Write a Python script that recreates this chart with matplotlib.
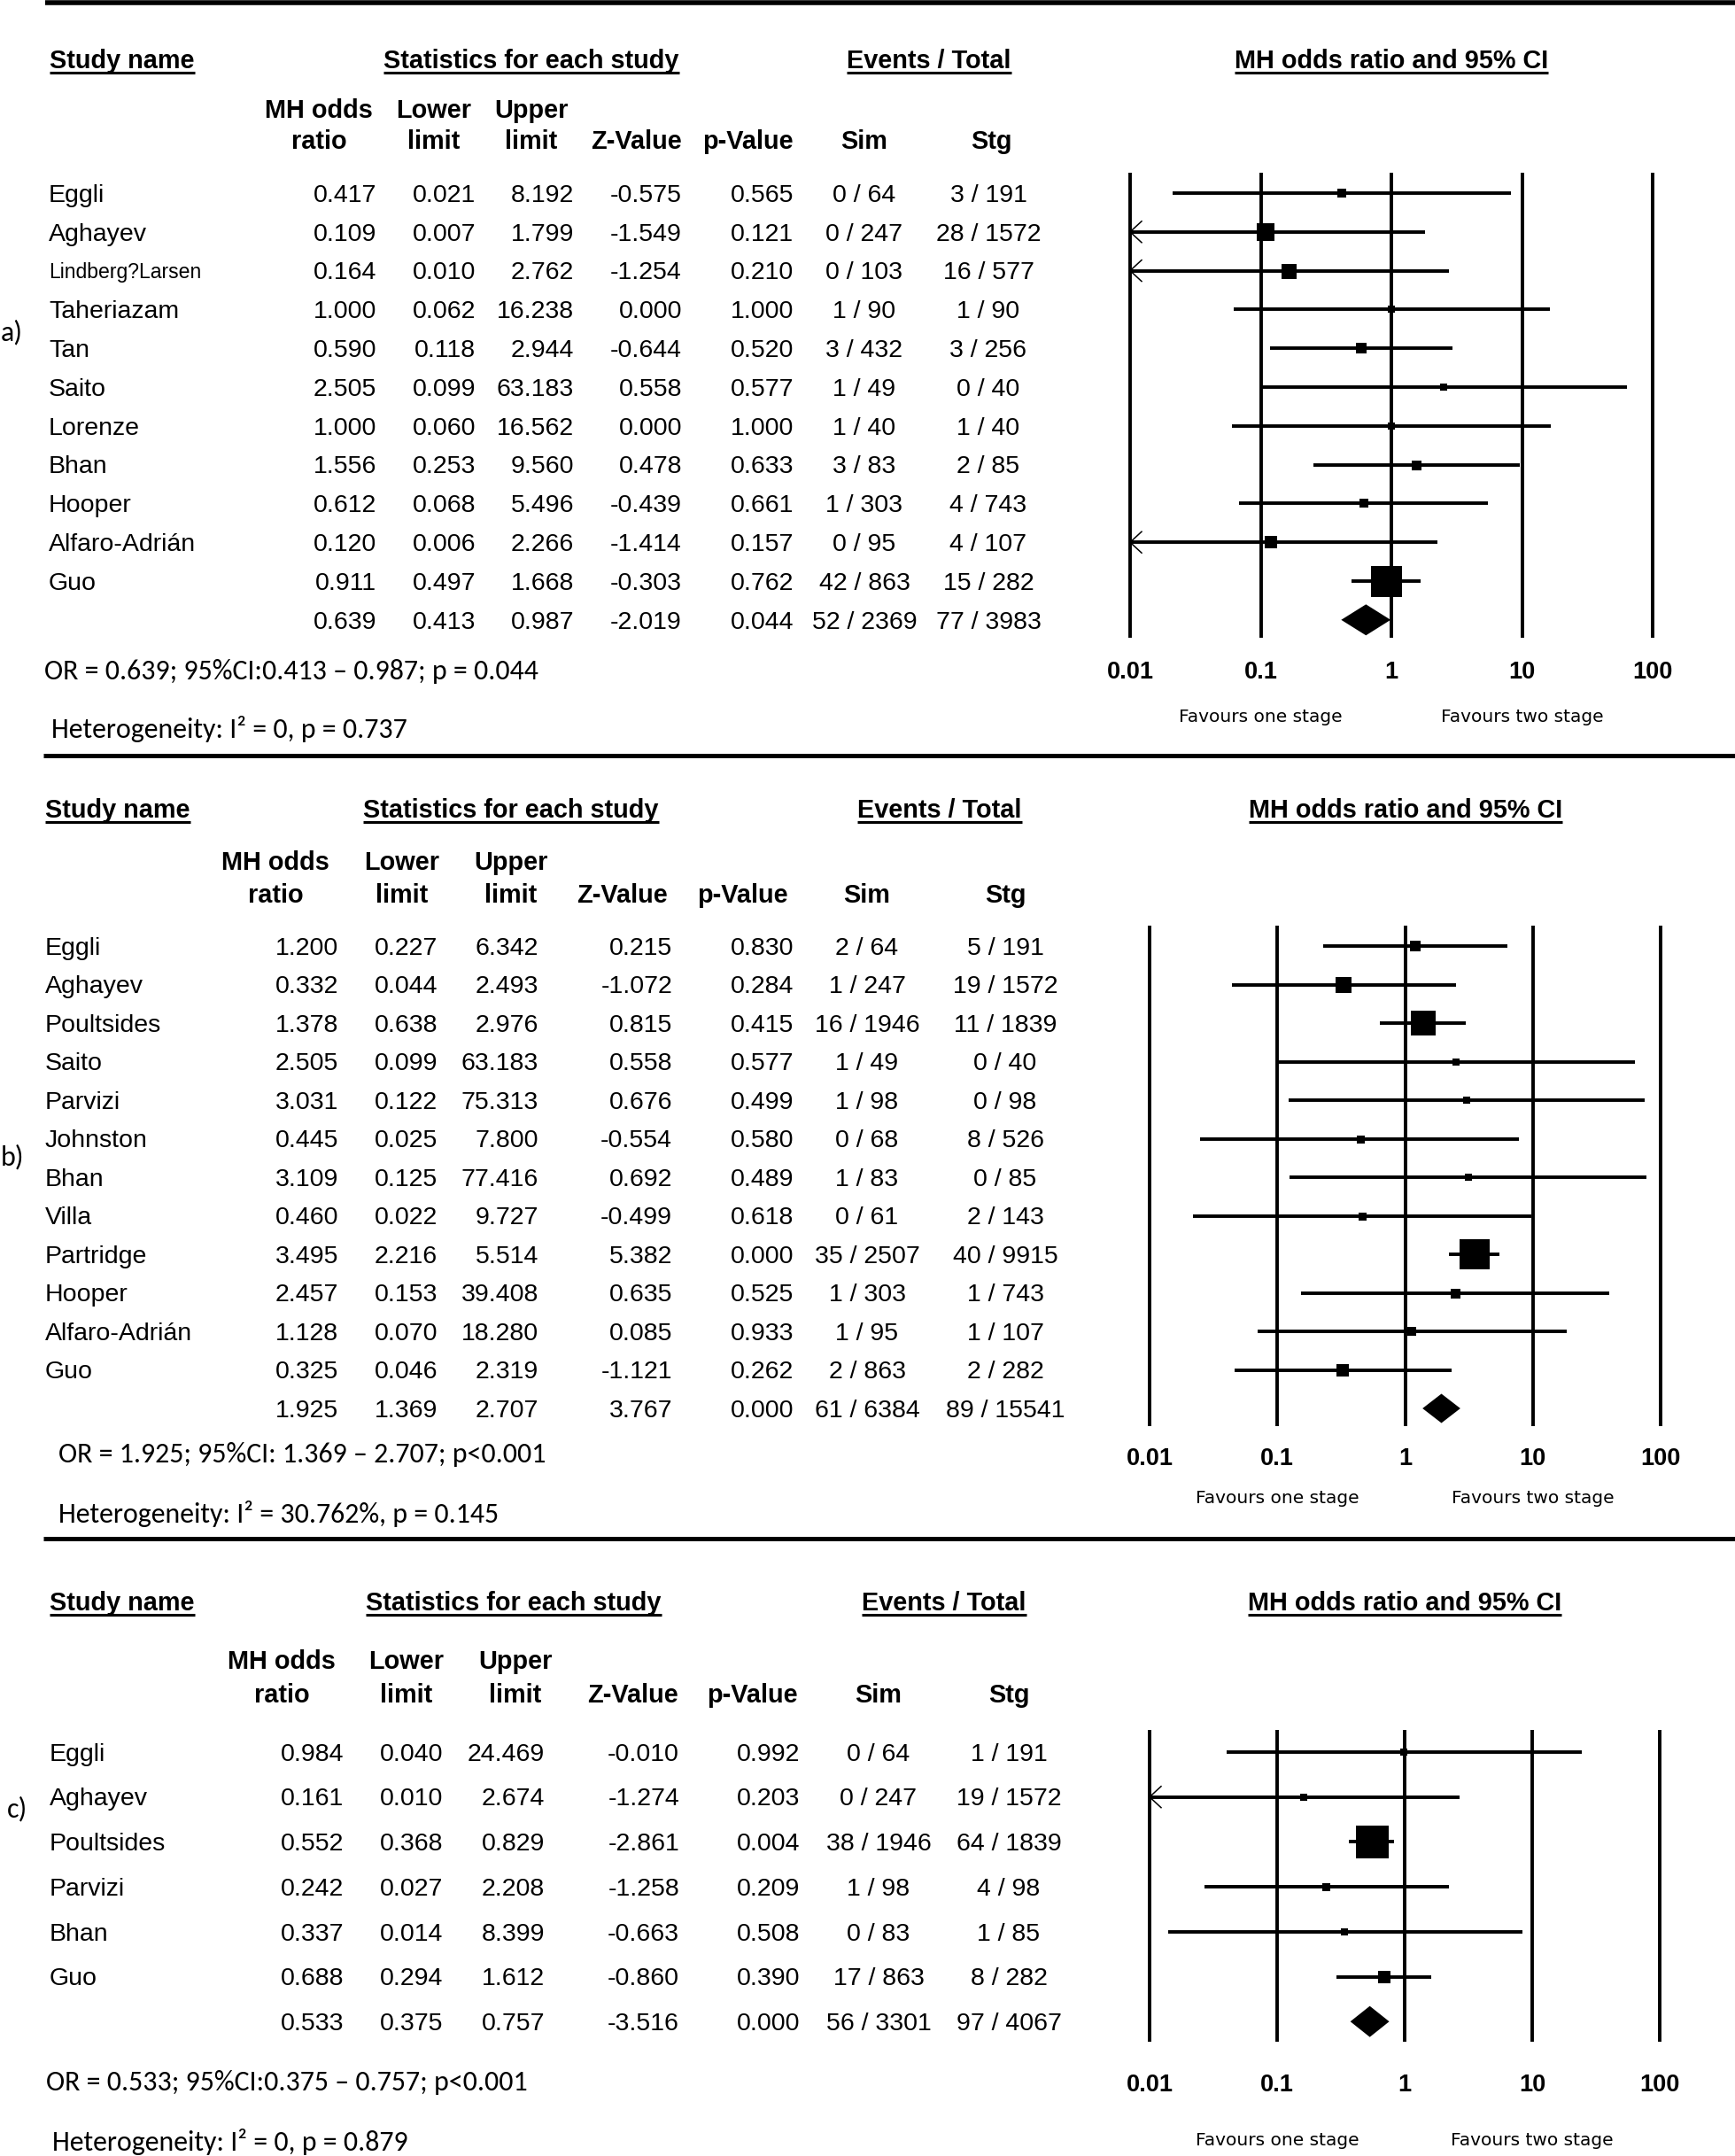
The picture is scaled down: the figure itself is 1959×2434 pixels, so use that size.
import matplotlib
matplotlib.use("Agg")
import matplotlib.pyplot as plt
from matplotlib import font_manager
from matplotlib.font_manager import FontProperties
from matplotlib.textpath import TextPath

# ---------------- DATA ----------------
# Panel a (last entry = pooled estimate)
a_names = ["Eggli", "Aghayev", "Lindberg?Larsen", "Taheriazam", "Tan", "Saito", "Lorenze",
           "Bhan", "Hooper", "Alfaro-Adrián", "Guo", ""]
a_or = [0.417, 0.109, 0.164, 1.000, 0.590, 2.505, 1.000, 1.556, 0.612, 0.120, 0.911, 0.639]
a_lower = [0.021, 0.007, 0.010, 0.062, 0.118, 0.099, 0.060, 0.253, 0.068, 0.006, 0.497, 0.413]
a_upper = [8.192, 1.799, 2.762, 16.238, 2.944, 63.183, 16.562, 9.560, 5.496, 2.266, 1.668, 0.987]
a_z = [-0.575, -1.549, -1.254, 0.000, -0.644, 0.558, 0.000, 0.478, -0.439, -1.414, -0.303, -2.019]
a_p = [0.565, 0.121, 0.210, 1.000, 0.520, 0.577, 1.000, 0.633, 0.661, 0.157, 0.762, 0.044]
a_sim_events = [0, 0, 0, 1, 3, 1, 1, 3, 1, 0, 42, 52]
a_sim_total = [64, 247, 103, 90, 432, 49, 40, 83, 303, 95, 863, 2369]
a_stg_events = [3, 28, 16, 1, 3, 0, 1, 2, 4, 4, 15, 77]
a_stg_total = [191, 1572, 577, 90, 256, 40, 40, 85, 743, 107, 282, 3983]
a_or_text = "OR = 0.639; 95%CI:0.413 \u2013 0.987; p = 0.044"
a_het_text = "Heterogeneity: I\u00b2 = 0, p = 0.737"

# Panel b
b_names = ["Eggli", "Aghayev", "Poultsides", "Saito", "Parvizi", "Johnston", "Bhan", "Villa",
           "Partridge", "Hooper", "Alfaro-Adrián", "Guo", ""]
b_or = [1.200, 0.332, 1.378, 2.505, 3.031, 0.445, 3.109, 0.460, 3.495, 2.457, 1.128, 0.325, 1.925]
b_lower = [0.227, 0.044, 0.638, 0.099, 0.122, 0.025, 0.125, 0.022, 2.216, 0.153, 0.070, 0.046, 1.369]
b_upper = [6.342, 2.493, 2.976, 63.183, 75.313, 7.800, 77.416, 9.727, 5.514, 39.408, 18.280, 2.319, 2.707]
b_z = [0.215, -1.072, 0.815, 0.558, 0.676, -0.554, 0.692, -0.499, 5.382, 0.635, 0.085, -1.121, 3.767]
b_p = [0.830, 0.284, 0.415, 0.577, 0.499, 0.580, 0.489, 0.618, 0.000, 0.525, 0.933, 0.262, 0.000]
b_sim_events = [2, 1, 16, 1, 1, 0, 1, 0, 35, 1, 1, 2, 61]
b_sim_total = [64, 247, 1946, 49, 98, 68, 83, 61, 2507, 303, 95, 863, 6384]
b_stg_events = [5, 19, 11, 0, 0, 8, 0, 2, 40, 1, 1, 2, 89]
b_stg_total = [191, 1572, 1839, 40, 98, 526, 85, 143, 9915, 743, 107, 282, 15541]
b_or_text = "OR = 1.925; 95%CI: 1.369 \u2013 2.707; p<0.001"
b_het_text = "Heterogeneity: I\u00b2 = 30.762%, p = 0.145"

# Panel c
c_names = ["Eggli", "Aghayev", "Poultsides", "Parvizi", "Bhan", "Guo", ""]
c_or = [0.984, 0.161, 0.552, 0.242, 0.337, 0.688, 0.533]
c_lower = [0.040, 0.010, 0.368, 0.027, 0.014, 0.294, 0.375]
c_upper = [24.469, 2.674, 0.829, 2.208, 8.399, 1.612, 0.757]
c_z = [-0.010, -1.274, -2.861, -1.258, -0.663, -0.860, -3.516]
c_p = [0.992, 0.203, 0.004, 0.209, 0.508, 0.390, 0.000]
c_sim_events = [0, 0, 38, 1, 0, 17, 56]
c_sim_total = [64, 247, 1946, 98, 83, 863, 3301]
c_stg_events = [1, 19, 64, 4, 1, 8, 97]
c_stg_total = [191, 1572, 1839, 98, 85, 282, 4067]
c_or_text = "OR = 0.533; 95%CI:0.375 \u2013 0.757; p<0.001"
c_het_text = "Heterogeneity: I\u00b2 = 0, p = 0.879"

axis_ticks = [0.01, 0.1, 1, 10, 100]
axis_tick_labels = ["0.01", "0.1", "1", "10", "100"]
header_labels = ["Study name", "Statistics for each study", "Events / Total", "MH odds ratio and 95% CI"]
sub_labels = [("MH odds", "ratio"), ("Lower", "limit"), ("Upper", "limit"), ("", "Z-Value"),
              ("", "p-Value"), ("", "Sim"), ("", "Stg")]
favour_labels = ["Favours one stage", "Favours two stage"]

# ---------------- STYLE / LAYOUT ----------------
W, H, DPI = 1959, 2434, 100
avail = {f.name for f in font_manager.fontManager.ttflist}


def pick(*names):
    for n in names:
        if n in avail:
            return n
    return "DejaVu Sans"


ARIAL = pick("Liberation Sans", "Arial")
NARROW = pick("Liberation Sans Narrow", "Arial Narrow", "Liberation Sans")
CALIBRI = pick("Carlito", "Calibri", "Lato", "Open Sans")
TAHOMA = pick("DejaVu Sans")

fig = plt.figure(figsize=(W / DPI, H / DPI), dpi=DPI)
fig.patch.set_facecolor("white")
ax0 = fig.add_axes([0, 0, 1, 1])
ax0.set_xlim(0, W)
ax0.set_ylim(H, 0)
ax0.axis("off")
renderer = fig.canvas.get_renderer()


def fit_size(s, family, target_w, weight="normal", base=20.0):
    t = ax0.text(0, 0, s, fontsize=base, family=family, weight=weight)
    w = t.get_window_extent(renderer).width
    t.remove()
    return base * target_w / w


def cap_px(fp):
    tp = TextPath((0, 0), "H", prop=fp)
    return tp.get_extents().height * DPI / 72.0


BODY_FP = FontProperties(family=ARIAL, size=20.5)
HDR_FP = FontProperties(family=ARIAL, size=20.8, weight="bold")
TICK_FP = FontProperties(family=ARIAL, size=19.5, weight="bold")
calib_size = fit_size(a_het_text, CALIBRI, 401)
CAL_FP = FontProperties(family=CALIBRI, size=calib_size)
fav_size = fit_size(favour_labels[0], TAHOMA, 184)
FAV_FP = FontProperties(family=TAHOMA, size=fav_size)

# long study names are squeezed into the name column in the original
name_max_width = {"Lindberg?Larsen": 172}


def name_fp(name):
    if name in name_max_width:
        sz = min(20.5, fit_size(name, NARROW, name_max_width[name]))
        return FontProperties(family=NARROW, size=sz)
    return BODY_FP


def txt(ax, x, yc, s, fp, ha="left", capref=None, **kw):
    """Place text so that its cap-height is vertically centred on yc (pixel coords)."""
    ref = capref if capref is not None else fp
    return ax.text(x, yc + cap_px(ref) / 2.0, s, fontproperties=fp, ha=ha, va="baseline",
                   clip_on=False, **kw)


def header(x, yc, s, ha):
    t = txt(ax0, x, yc, s, HDR_FP, ha=ha)
    bb = t.get_window_extent(renderer)
    ax0.plot([bb.x0, bb.x1], [yc + 15, yc + 15], color="black", lw=2.2, solid_capstyle="butt")


LW = 2.8

panels = [
    dict(label="a)", label_xy=(1, 374),
         names=a_names, orr=a_or, lo=a_lower, hi=a_upper, z=a_z, p=a_p,
         se=a_sim_events, st=a_sim_total, te=a_stg_events, tt=a_stg_total,
         or_text=a_or_text, het_text=a_het_text,
         boxes=[10, 20, 17, 8, 12, 8, 8, 11, 10, 14, 35], diamond_h=35,
         hdr_y=67, sub_y=(123, 158), row0=218, step=43.8,
         name_x=55, cols=(425, 537, 648, 770, 896, 976, 1116),
         hdr_x=(56, 600, 1049, 1571), sub_x=(360, 490, 600, 719, 844, 976, 1119),
         L=1276, R=1866, vtop=195, vbot=720, tick_y=757, fav_y=808,
         or_xy=(50, 757), het_xy=(58, 823)),
    dict(label="b)", label_xy=(1, 1305),
         names=b_names, orr=b_or, lo=b_lower, hi=b_upper, z=b_z, p=b_p,
         se=b_sim_events, st=b_sim_total, te=b_stg_events, tt=b_stg_total,
         or_text=b_or_text, het_text=b_het_text,
         boxes=[12, 18, 28, 8, 8, 9, 8, 9, 34, 11, 10, 14], diamond_h=33,
         hdr_y=913, sub_y=(972, 1009), row0=1068, step=43.5,
         name_x=51, cols=(382, 494, 608, 759, 896, 979, 1135),
         hdr_x=(51, 577, 1061, 1587), sub_x=(311, 454, 577, 702, 838, 979, 1135),
         L=1298, R=1875, vtop=1045, vbot=1610, tick_y=1645, fav_y=1690,
         or_xy=(66, 1641), het_xy=(66, 1709)),
    dict(label="c)", label_xy=(8, 2041),
         names=c_names, orr=c_or, lo=c_lower, hi=c_upper, z=c_z, p=c_p,
         se=c_sim_events, st=c_sim_total, te=c_stg_events, tt=c_stg_total,
         or_text=c_or_text, het_text=c_het_text,
         boxes=[8, 8, 37, 9, 8, 14], diamond_h=35,
         hdr_y=1808, sub_y=(1874, 1912), row0=1978, step=50.7,
         name_x=56, cols=(388, 500, 615, 767, 903, 992, 1139),
         hdr_x=(56, 580, 1066, 1586), sub_x=(318, 459, 582, 714, 849, 992, 1139),
         L=1298, R=1874, vtop=1953, vbot=2305, tick_y=2352, fav_y=2415,
         or_xy=(52, 2350), het_xy=(59, 2418)),
]

# horizontal rules
ax0.plot([51, W], [3, 3], color="black", lw=4.0, solid_capstyle="butt")
ax0.plot([49, W], [853, 853], color="black", lw=3.6, solid_capstyle="butt")
ax0.plot([49, W], [1737, 1737], color="black", lw=3.6, solid_capstyle="butt")

for P in panels:
    # headers
    header(P["hdr_x"][0], P["hdr_y"], header_labels[0], "left")
    for k in range(1, 4):
        header(P["hdr_x"][k], P["hdr_y"], header_labels[k], "center")
    for (l1, l2), xs in zip(sub_labels, P["sub_x"]):
        if l1:
            txt(ax0, xs, P["sub_y"][0], l1, HDR_FP, ha="center")
        txt(ax0, xs, P["sub_y"][1], l2, HDR_FP, ha="center")

    # table rows
    n = len(P["names"])
    rows = [P["row0"] + i * P["step"] for i in range(n)]
    c = P["cols"]
    for i in range(n):
        y = rows[i]
        if P["names"][i]:
            nm = P["names"][i]
            txt(ax0, P["name_x"], y, nm, name_fp(nm))
        txt(ax0, c[0], y, f"{P['orr'][i]:.3f}", BODY_FP, ha="right")
        txt(ax0, c[1], y, f"{P['lo'][i]:.3f}", BODY_FP, ha="right")
        txt(ax0, c[2], y, f"{P['hi'][i]:.3f}", BODY_FP, ha="right")
        txt(ax0, c[3], y, f"{P['z'][i]:.3f}", BODY_FP, ha="right")
        txt(ax0, c[4], y, f"{P['p'][i]:.3f}", BODY_FP, ha="right")
        txt(ax0, c[5], y, f"{P['se'][i]} / {P['st'][i]}", BODY_FP, ha="center")
        txt(ax0, c[6], y, f"{P['te'][i]} / {P['tt'][i]}", BODY_FP, ha="center")

    # summary texts
    txt(ax0, P["or_xy"][0], P["or_xy"][1], P["or_text"], CAL_FP)
    txt(ax0, P["het_xy"][0], P["het_xy"][1], P["het_text"], CAL_FP)
    txt(ax0, P["label_xy"][0], P["label_xy"][1], P["label"], CAL_FP)

    # forest plot axes (x: log OR, y: pixel rows)
    L, R, top, bot = P["L"], P["R"], P["vtop"], P["vbot"]
    ax = fig.add_axes([L / W, 1 - bot / H, (R - L) / W, (bot - top) / H])
    ax.set_xscale("log")
    ax.set_xlim(axis_ticks[0], axis_ticks[-1])
    ax.set_ylim(bot, top)
    ax.axis("off")
    for xt, lab in zip(axis_ticks, axis_tick_labels):
        ax.plot([xt, xt], [top, bot], color="black", lw=LW, solid_capstyle="butt", clip_on=False)
        txt(ax, xt, P["tick_y"], lab, TICK_FP, ha="center")
    txt(ax, axis_ticks[1], P["fav_y"], favour_labels[0], FAV_FP, ha="center")
    txt(ax, axis_ticks[3], P["fav_y"], favour_labels[1], FAV_FP, ha="center")

    ppd = (R - L) / 4.0
    arm = 10 ** (13.0 / ppd)
    for i in range(n - 1):
        y = rows[i]
        lo, hi, o = P["lo"][i], P["hi"][i], P["orr"][i]
        left = max(lo, axis_ticks[0])
        right = min(hi, axis_ticks[-1])
        ax.plot([left, right], [y, y], color="black", lw=LW, solid_capstyle="butt", clip_on=False)
        if lo <= axis_ticks[0]:
            x0 = axis_ticks[0]
            ax.plot([x0 * arm, x0, x0 * arm], [y - 12, y, y + 12], color="black", lw=1.1,
                    clip_on=False)
        s = P["boxes"][i]
        ax.plot([o], [y], marker="s", color="black", markersize=s * 72.0 / DPI,
                markeredgewidth=0, clip_on=False, zorder=5)
    # pooled diamond
    y = rows[-1]
    h = P["diamond_h"] / 2.0
    ax.fill([P["lo"][-1], P["orr"][-1], P["hi"][-1], P["orr"][-1]], [y, y - h, y, y + h],
            color="black", lw=0, zorder=5, clip_on=False)

fig.savefig("out.png", dpi=DPI, facecolor="white")
